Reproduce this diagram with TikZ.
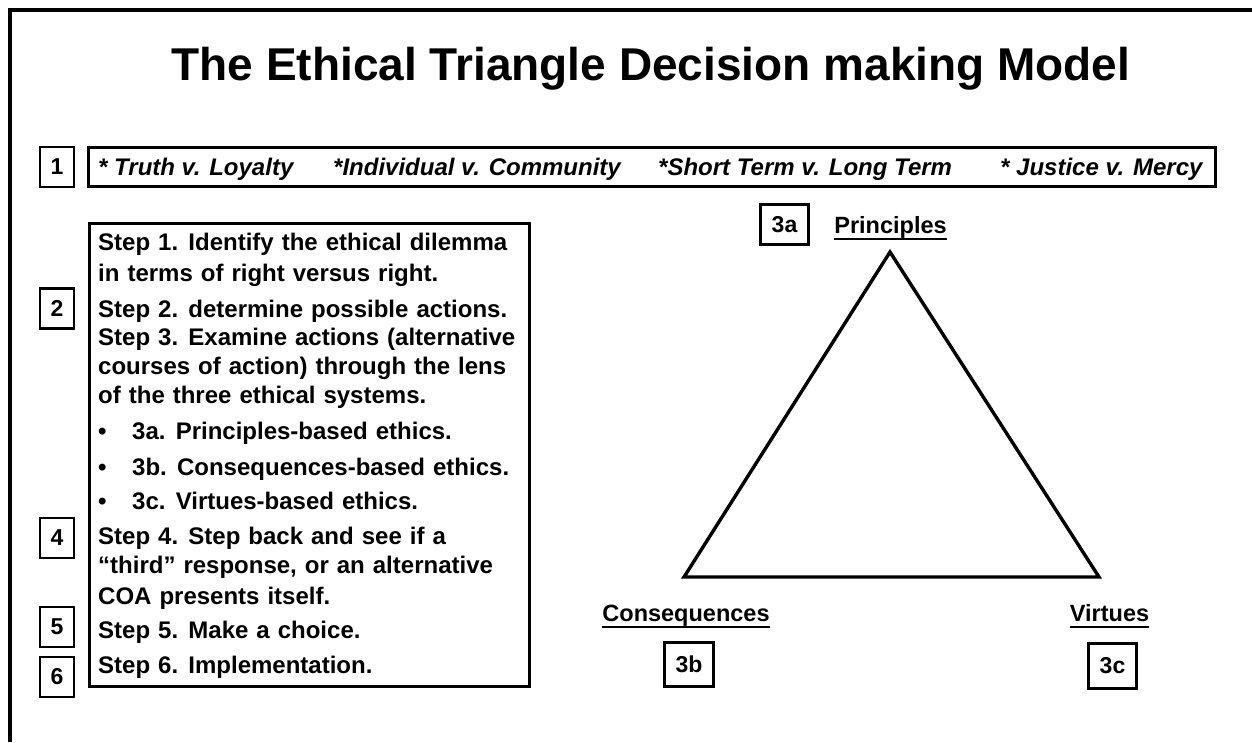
\documentclass[tikz,border=0pt]{standalone}
\usepackage{fontspec}
\setmainfont{Liberation Sans}
\newfontfamily\stepfont{Liberation Sans}[WordSpace=1.2]
\usepackage{tikz}

\begin{document}
\begin{tikzpicture}[
  x=1pt, y=-1pt,
  numbox/.style={draw, line width=2.6pt, minimum width=34pt, minimum height=40pt,
    inner sep=0pt, font=\fontsize{23}{23}\selectfont\bfseries},
  stepline/.style={anchor=base west, inner sep=0pt,
    font=\stepfont\fontsize{24}{24}\selectfont\bfseries},
  dilemma/.style={anchor=base west, inner sep=0pt,
    font=\fontsize{24}{24}\selectfont\bfseries\itshape},
  corner/.style={anchor=base, inner sep=0pt,
    font=\fontsize{23.5}{24}\selectfont\bfseries},
  uline/.style={line width=2pt}
]
  \useasboundingbox (0,0) rectangle (1252,742);

  % Slide edge
  \draw[line width=3.2pt] (10,742) -- (10,10) -- (1252,10);

  % Title
  \node[anchor=base, inner sep=0pt, font=\fontsize{46}{46}\selectfont\bfseries]
    (title) at (651,80) {The Ethical Triangle Decision making Model};

  % Dilemma paradigms
  \draw[line width=2.6pt] (88.3,147.3) rectangle (1215.7,186.7);
  \node[dilemma] (truth) at (98,175) {* Truth v. Loyalty};
  \node[dilemma] (indiv) at (333,175) {*Individual v. Community};
  \node[dilemma] (term) at (658,175) {*Short Term v. Long Term};
  \node[dilemma] (justice) at (1000,175) {* Justice v. Mercy};

  % Steps
  \draw[line width=2.6pt] (89.5,223.5) rectangle (529.5,686.5);
  \foreach \y/\txt [count=\i] in {
    250/{Step 1. Identify the ethical dilemma},
    281/{in terms of right versus right.},
    317/{Step 2. determine possible actions.},
    345/{Step 3. Examine actions (alternative},
    374/{courses of action) through the lens},
    403/{of the three ethical systems.},
    439/{\makebox[34pt][l]{•}3a. Principles-based ethics.},
    475/{\makebox[34pt][l]{•}3b. Consequences-based ethics.},
    509/{\makebox[34pt][l]{•}3c. Virtues-based ethics.},
    544/{Step 4. Step back and see if a},
    573/{“third” response, or an alternative},
    604/{COA presents itself.},
    638/{Step 5. Make a choice.},
    673/{Step 6. Implementation.}}
    \node[stepline] (step\i) at (98,\y) {\txt};

  % Step numbers
  \foreach \n/\y in {1/167, 2/308.5, 4/538, 5/627, 6/677}
    \node[numbox] (num\n) at (57,\y) {\n};

  % Triangle
  \coordinate (apex) at (890,252);
  \coordinate (left) at (684,577);
  \coordinate (right) at (1099,577);
  \draw[line width=3.4pt, line join=miter] (apex) -- (left) -- (right) -- cycle;

  \node[corner] (prin) at (890.5,233) {Principles};
  \node[corner] (cons) at (686,621) {Consequences};
  \node[corner] (virt) at (1109.5,621) {Virtues};
  \foreach \n in {prin, cons, virt}
    \draw[uline] ([yshift=-6pt]\n.base west) -- ([yshift=-6pt]\n.base east);

  \node[numbox, minimum width=48pt] (sys3a) at (784.5,224.5) {3a};
  \node[numbox, minimum width=49pt, minimum height=44pt] (sys3b) at (689,664.5) {3b};
  \node[numbox, minimum width=48pt, minimum height=45pt] (sys3c) at (1112.5,666) {3c};
\end{tikzpicture}
\end{document}
